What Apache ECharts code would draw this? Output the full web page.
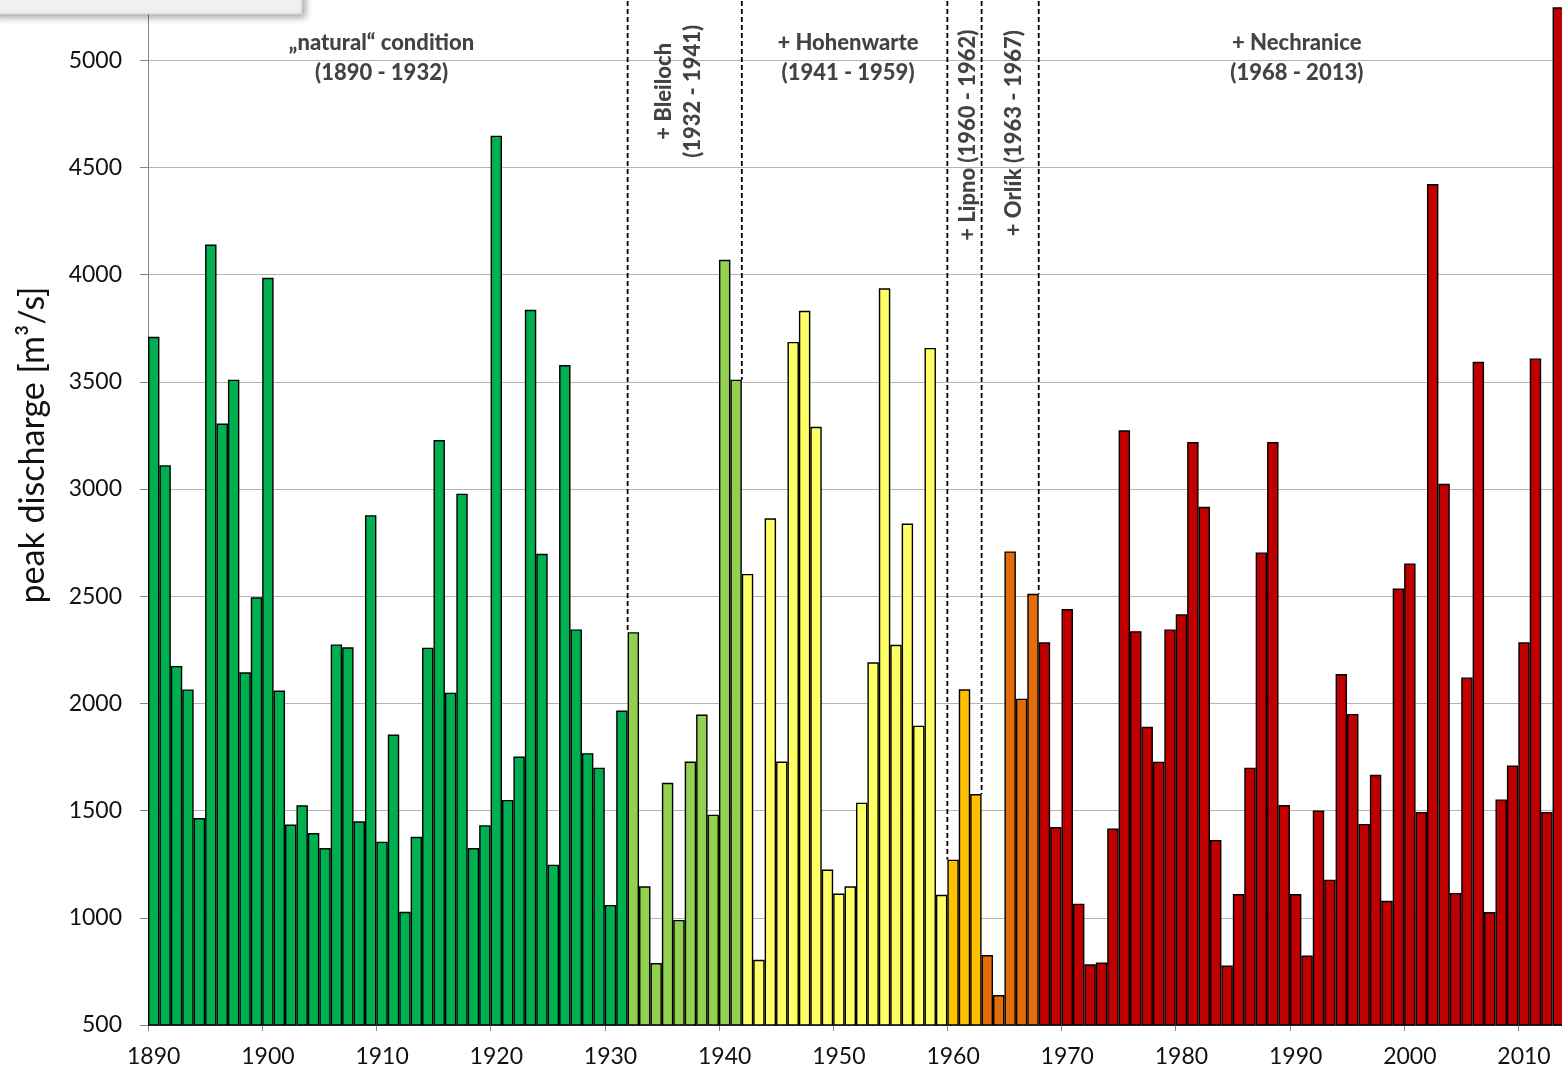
<!DOCTYPE html>
<html>
<head>
<meta charset="utf-8">
<script src="https://cdn.jsdelivr.net/npm/echarts@6/dist/echarts.min.js"></script>
<style>
html,body{margin:0;padding:0;background:#fff;}
#chart{width:1562px;height:1073px;}
</style>
</head>
<body>
<div id="chart"></div>
<script>
// ---------- DATA ----------
const firstYear = 1890;
const lastYear = 2013;
const years = [];
for (let y = firstYear; y <= lastYear; y++) years.push(String(y));

// annual peak discharge [m3/s], 1890 - 2013
const peakDischarge = [
  3710, 3111, 2175, 2065, 1465, 4140, 3305, 3510, 2145, 2495, // 1890-1899
  3985, 2060, 1435, 1525, 1395, 1325, 2275, 2262, 1450, 2878, // 1900-1909
  1355, 1855, 1028, 1378, 2260, 3228, 2050, 2978, 1325, 1432, // 1910-1919
  4648, 1550, 1752, 3836, 2698, 1248, 3578, 2345, 1768, 1700, // 1920-1929
  1060, 1967, 2332, 1147,  789, 1630,  990, 1729, 1948, 1481, // 1930-1939
  4069, 3510, 2604,  804, 2863, 1729, 3686, 3831, 3290, 1225, // 1940-1949
  1113, 1147, 1537, 2192, 3936, 2273, 2839, 1896, 3658, 1107, // 1950-1959
  1271, 2066, 1577,  826,  640, 2709, 2022, 2511, 2285, 1423, // 1960-1969
  2440, 1066,  783,  791, 1416, 3274, 2337, 1891, 1728, 2345, // 1970-1979
  2416, 3219, 2917, 1363,  777, 1111, 1700, 2704, 3219, 1526, // 1980-1989
  1111,  824, 1500, 1178, 2137, 1951, 1438, 1667, 1079, 2536, // 1990-1999
  2653, 1494, 4422, 3024, 1116, 2121, 3593, 1027, 1552, 1710, // 2000-2009
  2285, 3609, 1494, 5247                                      // 2010-2013
];

// reservoir periods: first year with the bar colour of each period
const periodStarts = [1890, 1932, 1942, 1960, 1963, 1968];
const periodColors = ['#00B050', '#92D050', '#FFFF66', '#FFC000', '#E46C0A', '#C00000'];

// period annotations
const annotationTexts = [
  '\u201Enatural\u201C condition\n(1890 - 1932)',
  '+ Bleiloch\n(1932 - 1941)',
  '+ Hohenwarte\n(1941 - 1959)',
  '+ Lipno (1960 - 1962)',
  '+ Orl\u00edk (1963 - 1967)',
  '+ Nechranice\n(1968 - 2013)'
];

const yTicks = { min: 500, max: 5500, step: 500 };

// ---------- LAYOUT (positions in data units of the hidden year axis) ----------
const annotationLayout = [
  { x: 1910.45, y: 5009, rotate: 0 },
  { x: 1936.45, y: 4855, rotate: 90 },
  { x: 1951.3,  y: 5009, rotate: 0 },
  { x: 1961.8,  y: 4650, rotate: 90 },
  { x: 1965.8,  y: 4660, rotate: 90 },
  { x: 1990.6,  y: 5009, rotate: 0 }
];

// ---------- BUILD ----------
function colorForYear(y) {
  let c = periodColors[0];
  for (let i = 0; i < periodStarts.length; i++) if (y >= periodStarts[i]) c = periodColors[i];
  return c;
}

const barData = peakDischarge.map((v, i) => ({
  value: v,
  itemStyle: { color: colorForYear(firstYear + i) }
}));

const series = [{
  type: 'bar',
  name: 'peak discharge',
  data: barData,
  barCategoryGap: '0%',
  barGap: '0%',
  itemStyle: { borderColor: '#000', borderWidth: 1.4 },
  silent: true
}];

// dashed boundary lines between periods (from top down to the taller adjacent bar)
periodStarts.slice(1).forEach(y => {
  const i = y - firstYear;
  const bottom = Math.max(peakDischarge[i - 1], peakDischarge[i]);
  series.push({
    type: 'line',
    xAxisIndex: 1,
    yAxisIndex: 0,
    data: [[y, yTicks.max], [y, bottom]],
    symbol: 'none',
    silent: true,
    lineStyle: { color: '#000', width: 1.8, type: [5, 3] },
    z: 5
  });
});

// annotation texts
series.push({
  type: 'scatter',
  xAxisIndex: 1,
  yAxisIndex: 0,
  symbolSize: 1,
  silent: true,
  z: 6,
  itemStyle: { color: 'rgba(0,0,0,0)' },
  data: annotationTexts.map((t, i) => {
    const L = annotationLayout[i];
    return {
      value: [L.x, L.y],
      label: {
        show: true,
        formatter: t,
        position: 'inside',
        rotate: L.rotate,
        align: 'center',
        verticalAlign: 'middle',
        fontFamily: 'Lato',
        fontWeight: 900,
        fontSize: 22,
        lineHeight: L.rotate ? 29 : 30,
        color: '#141414'
      }
    };
  })
});

const option = {
  animation: false,
  backgroundColor: '#ffffff',
  grid: { left: 148, right: -2, top: -47, bottom: 48, containLabel: false, outerBoundsMode: 'none' },
  xAxis: [{
    type: 'category',
    data: years,
    boundaryGap: true,
    axisLine: { show: true, lineStyle: { color: '#868686', width: 1 } },
    axisTick: { show: true, interval: 9, length: 6, alignWithLabel: false, lineStyle: { color: '#868686' } },
    axisLabel: {
      interval: 9, margin: 20,
      fontFamily: 'Lato', fontSize: 23, color: '#111'
    },
    splitLine: { show: false }
  }, {
    type: 'value',
    min: firstYear,
    max: lastYear + 1,
    show: false
  }],
  yAxis: [{
    type: 'value',
    min: yTicks.min,
    max: yTicks.max,
    interval: yTicks.step,
    axisLine: { show: true, lineStyle: { color: '#868686', width: 1 } },
    axisTick: { show: true, length: 8, lineStyle: { color: '#868686' } },
    axisLabel: { margin: 26, fontFamily: 'Lato', fontSize: 23, color: '#111', formatter: v => String(v) },
    splitLine: { show: true, lineStyle: { color: '#b4b4b4', width: 1 } }
  }],
  graphic: [
    {
      type: 'text',
      x: 33, y: 445,
      rotation: Math.PI / 2,
      style: {
        text: 'peak discharge [m\u00b3/s]',
        font: '34px Lato',
        fill: '#111',
        align: 'center',
        verticalAlign: 'middle'
      },
      z: 10
    },
    {
      type: 'rect',
      shape: { x: -10, y: -20, width: 312, height: 34 },
      style: {
        fill: '#f0f0f0',
        stroke: '#d6d6d6',
        lineWidth: 1,
        shadowBlur: 7,
        shadowOffsetX: 3,
        shadowOffsetY: 3,
        shadowColor: 'rgba(0,0,0,0.35)'
      },
      z: 20
    }
  ],
  series: series
};

const chart = echarts.init(document.getElementById('chart'), null, { renderer: 'canvas' });
chart.setOption(option);
</script>
</body>
</html>
